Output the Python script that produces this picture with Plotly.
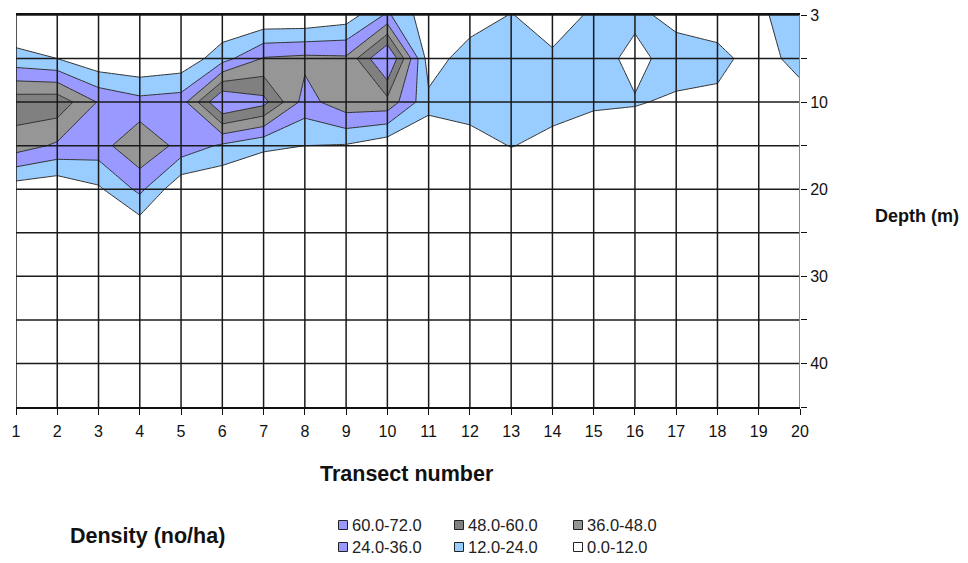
import plotly.graph_objects as go

# ---- data ----
transects = list(range(1, 21))
depths = [3, 5, 10, 15, 20, 25, 30, 35, 40, 45]
depth_tick_labels = ["3", "", "10", "", "20", "", "30", "", "40", ""]

# density (no/ha) per depth row, transects 1..20
depth_3 = [0, 0, 0, 0, 0, 0, 0, 0, 5, 26, 4, 5.5, 12.5, 6, 14, 15, 8, 5, 11, 15]
depth_5 = [16, 12, 2, 0, 3, 19, 37, 39, 38, 76, 6, 18, 20, 14, 18, 8, 18, 16, 6, 17]
depth_10 = [55, 56, 35, 28, 30, 74, 64, 31, 44, 44, 15, 18, 20, 17, 14, 13, 10, 9, 4, 6]
depth_15 = [42, 34, 31, 46, 32, 22, 14, 12, 11, 4, 5, 6.5, 12.5, 8, 4, 3, 2, 1, 0, 0]
depth_20 = [5, 2, 10, 27, 2, 0, 0, 0, 0, 0, 0, 0, 0, 0, 0, 0, 0, 0, 0, 0]
depth_25 = [0, 0, 0, 2, 0, 0, 0, 0, 0, 0, 0, 0, 0, 0, 0, 0, 0, 0, 0, 0]
depth_30 = [0] * 20
depth_35 = [0] * 20
depth_40 = [0] * 20
depth_45 = [0] * 20

band_labels = ["60.0-72.0", "48.0-60.0", "36.0-48.0", "24.0-36.0", "12.0-24.0", "0.0-12.0"]
band_colors = ["#9999FF", "#808080", "#969696", "#9999FF", "#99CCFF", "#FFFFFF"]

z = [depth_3, depth_5, depth_10, depth_15, depth_20, depth_25,
     depth_30, depth_35, depth_40, depth_45]
yidx = list(range(len(depths)))

# step colorscale: band midpoints 6,18,30,42,54,66 map to 0,.2,.4,.6,.8,1
asc = band_colors[::-1]
cs = []
edges = [0, 0.1, 0.3, 0.5, 0.7, 0.9, 1.0]
for i, c in enumerate(asc):
    cs.append([edges[i], c])
    cs.append([edges[i + 1], c])

fig = go.Figure()
fig.add_trace(go.Contour(
    x=transects, y=yidx, z=z,
    colorscale=cs, showscale=False,
    contours=dict(start=12, end=60, size=12, coloring="fill"),
    line=dict(color="#333333", width=1, smoothing=0),
    hoverinfo="skip",
))

# grid drawn above the fill (Excel style)
shapes = []
for xv in transects:
    shapes.append(dict(type="line", xref="x", yref="y", x0=xv, x1=xv, y0=0, y1=9,
                       line=dict(color="#1a1a1a", width=1.5), layer="above"))
for yv in yidx[:-1]:
    shapes.append(dict(type="line", xref="x", yref="y", x0=1, x1=20, y0=yv, y1=yv,
                       line=dict(color="#1a1a1a", width=1.5), layer="above"))
# right axis line in grey
shapes.append(dict(type="line", xref="x", yref="y", x0=20, x1=20, y0=0, y1=9,
                   line=dict(color="#8a8a8a", width=2), layer="above"))

F = "Arial, Liberation Sans"
annotations = [
    dict(text="<b>Transect number</b>", x=407, y=474, font=dict(size=21.5, family=F, color="#111")),
    dict(text="<b>Depth (m)</b>", x=917, y=216, font=dict(size=18, family=F, color="#111")),
    dict(text="<b>Density (no/ha)</b>", x=147, y=536, font=dict(size=21.5, family=F, color="#111")),
]
for a in annotations:
    a.update(xref="paper", yref="paper", xanchor="center", yanchor="middle", showarrow=False)

# legend (2 rows x 3 cols)
col_x = [343, 459, 578]
row_y = [525, 547]
for i, (lab, col) in enumerate(zip(band_labels, band_colors)):
    r, c = divmod(i, 3)
    cx, cy = col_x[c], row_y[r]
    annotations.append(dict(text=lab, x=cx + 7, y=cy, xref="paper", yref="paper",
                            xanchor="left", yanchor="middle", showarrow=False,
                            font=dict(size=16.5, family=F, color="#222")))
    shapes.append(dict(type="rect", xref="paper", yref="paper",
                       x0=cx - 4.5, x1=cx + 4.5, y0=cy - 4.5, y1=cy + 4.5,
                       fillcolor=col, line=dict(color="#222", width=1)))

# page offset (browser body margin) and margins
OFF = 8
W, H = 968 - OFF, 563 - OFF
L, T = 16 - OFF, 15 - OFF
R = W - (800 - OFF)
B = H - (407 - OFF)
pw, ph = W - L - R, H - T - B
for a in annotations:
    a["x"] = (a["x"] - OFF - L) / pw
    a["y"] = (H - (a["y"] - OFF) - B) / ph
for s in shapes:
    if s["xref"] == "paper":
        s["x0"] = (s["x0"] - OFF - L) / pw
        s["x1"] = (s["x1"] - OFF - L) / pw
        y0, y1 = s["y0"] - OFF, s["y1"] - OFF
        s["y0"] = (H - y1 - B) / ph
        s["y1"] = (H - y0 - B) / ph

fig.update_layout(
    width=W, height=H,
    margin=dict(l=L, r=R, t=T, b=B, autoexpand=False),
    paper_bgcolor="white", plot_bgcolor="white",
    showlegend=False,
    shapes=shapes, annotations=annotations,
    font=dict(family=F, size=16, color="#111"),
    xaxis=dict(range=[1, 20], tickmode="array", tickvals=transects,
               ticktext=[str(t) for t in transects], automargin=False,
               showgrid=False, zeroline=False, ticks="outside", ticklen=6,
               tickcolor="#111", showline=True, linecolor="#111", linewidth=1.5,
               mirror=True, tickfont=dict(size=16), ticklabelstandoff=3,
               ticklabeloverflow="allow"),
    yaxis=dict(range=[9, 0], side="right", tickmode="array", tickvals=yidx,
               ticktext=depth_tick_labels, showgrid=False, zeroline=False,
               automargin=False, ticks="outside", ticklen=6, tickcolor="#111",
               showline=False, tickfont=dict(size=16), ticklabeloverflow="allow"),
)

fig.write_html("out.html")
